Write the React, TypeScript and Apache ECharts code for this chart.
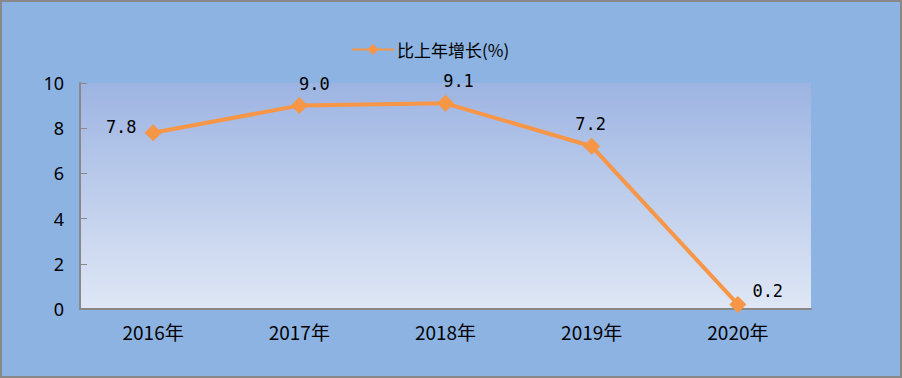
import React, { useEffect, useRef } from "react";
import * as echarts from "echarts";

const categories = ["2016年", "2017年", "2018年", "2019年", "2020年"];
const growth = [7.8, 9.0, 9.1, 7.2, 0.2];
const seriesName = "比上年增长(%)";

export default function App() {
  const ref = useRef<HTMLDivElement>(null);
  useEffect(() => {
    document.body.style.margin = "0";
    const chart = echarts.init(ref.current!, null, { renderer: "svg" });
    const labelPos: any[] = [
      { position: "left", distance: 8, offset: [0, -6] },
      { position: "top", distance: 5, offset: [15, 0] },
      { position: "top", distance: 5, offset: [13, 0] },
      { position: "top", distance: 5, offset: [-1, 0] },
      { position: "right", distance: 6, offset: [0, -13] },
    ];
    chart.setOption({
      animation: false,
      backgroundColor: "#8db3e2",
      graphic: [
        {
          type: "rect",
          shape: { x: 1, y: 1, width: 900, height: 376 },
          style: { fill: "none", stroke: "#888888", lineWidth: 2 },
          silent: true,
        },
      ],
      legend: {
        top: 36,
        left: 346,
        itemWidth: 42,
        itemHeight: 14,
        itemGap: 8,
        textStyle: { fontFamily: "Noto Sans CJK SC", fontSize: 17, color: "#000", padding: [0, 0, 0, -2] },
        data: [seriesName],
      },
      grid: {
        left: 80,
        right: 91,
        top: 83,
        bottom: 69,
        show: true,
        borderWidth: 0,
        backgroundColor: new echarts.graphic.LinearGradient(0, 0, 0, 1, [
          { offset: 0, color: "#9db4e2" },
          { offset: 1, color: "#dfe7f5" },
        ]),
      },
      xAxis: {
        type: "category",
        data: categories,
        boundaryGap: true,
        axisLine: { lineStyle: { color: "#888888", width: 2 } },
        axisTick: { inside: true, length: 7, lineStyle: { color: "#888888" } },
        axisLabel: { margin: 13, fontFamily: "Noto Sans CJK SC", fontSize: 19, color: "#000" },
      },
      yAxis: {
        type: "value",
        min: 0,
        max: 10,
        interval: 2,
        axisLine: { show: true, lineStyle: { color: "#888888", width: 2 } },
        axisTick: { show: true, inside: true, length: 7, lineStyle: { color: "#888888" } },
        splitLine: { show: false },
        axisLabel: { margin: 16, fontFamily: "Noto Sans", fontSize: 18, color: "#000" },
      },
      series: [
        {
          name: seriesName,
          type: "line",
          data: growth.map((v, i) => ({
            value: v,
            label: labelPos[i],
          })),
          symbol: "diamond",
          symbolSize: 17,
          lineStyle: { color: "#f79646", width: 4 },
          itemStyle: { color: "#f79646" },
          label: {
            show: true,
            formatter: (p: any) => p.value.toFixed(1),
            fontFamily: "DejaVu Sans Mono",
            fontSize: 17,
            color: "#000",
          },
        },
      ],
    });
    return () => chart.dispose();
  }, []);
  return <div ref={ref} style={{ width: 902, height: 378 }} />;
}
